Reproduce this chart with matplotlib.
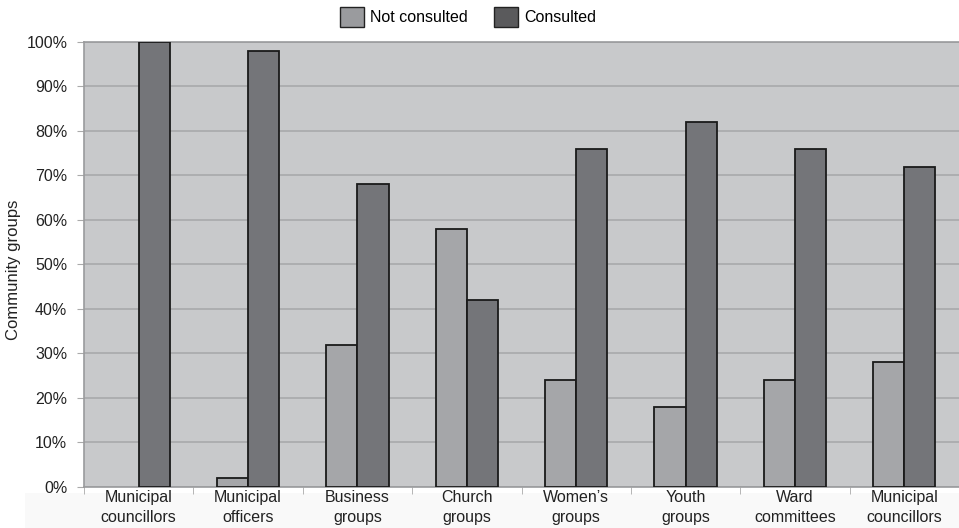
import matplotlib
matplotlib.use("Agg")
import matplotlib.pyplot as plt
from matplotlib.patches import Patch, Rectangle
import numpy as np

categories = ["Municipal\ncouncillors", "Municipal\nofficers", "Business\ngroups", "Church\ngroups",
              "Women\u2019s\ngroups", "Youth\ngroups", "Ward\ncommittees", "Municipal\ncouncillors"]
not_consulted = [0, 2, 32, 58, 24, 18, 24, 28]
consulted = [100, 98, 68, 42, 76, 82, 76, 72]
yticks = [0, 10, 20, 30, 40, 50, 60, 70, 80, 90, 100]

plt.rcParams['font.family'] = ['Liberation Sans', 'DejaVu Sans']

fig = plt.figure(figsize=(9.59, 5.28), dpi=100)
# faint background behind the category labels
bg = Rectangle((25/959, 0), 1, 35/528, transform=fig.transFigure,
               facecolor='#f9f9f9', edgecolor='none', zorder=-5)
fig.patches.append(bg)

ax = fig.add_axes([0.0876, 0.0777, 0.9124, 0.8428])
ax.set_zorder(1)
ax.set_facecolor('#c8c9cb')

x = np.arange(len(categories))
w = 0.285
nc_lw = [1.3 if v > 0 else 0 for v in not_consulted]
ax.bar(x - w/2, not_consulted, w, color='#a5a6a9', edgecolor='#1a1a1a', linewidth=nc_lw, zorder=3)
ax.bar(x + w/2, consulted, w, color='#747579', edgecolor='#1a1a1a', linewidth=1.3, zorder=3)

ax.set_xlim(-0.5, len(categories) - 0.5)
ax.set_ylim(0, 100)
ax.set_yticks(yticks)
ax.set_yticklabels([f"{v}%" for v in yticks], fontsize=11.5, color='#222222')
ax.yaxis.grid(True, color='#a8a9ab', linewidth=1.2, zorder=0)
ax.set_axisbelow(True)
ax.tick_params(axis='y', length=5, color='#aaaaaa', pad=7)

ax.set_xticks(x)
ax.set_xticklabels(categories, fontsize=11.5, color='#222222', linespacing=1.4)
ax.set_xticks(np.arange(-0.5, len(categories)), minor=True)
ax.tick_params(axis='x', which='major', length=0, pad=2)
ax.tick_params(axis='x', which='minor', length=5, color='#aaaaaa')

for s in ['left', 'bottom', 'top']:
    ax.spines[s].set_color('#9a9b9d')
    ax.spines[s].set_linewidth(1.2)
ax.spines['right'].set_visible(False)

fig.text(14/959, 0.489, "Community groups", rotation=90, fontsize=12, color='#222222',
         ha='center', va='center')

handles = [Patch(facecolor='#9a9b9e', edgecolor='#222222', label='Not consulted'),
           Patch(facecolor='#5a5a5c', edgecolor='#222222', label='Consulted')]
fig.legend(handles=handles, loc='center', bbox_to_anchor=(0.488, 0.968), ncol=2, frameon=False,
           fontsize=11.5, handlelength=1.5, handleheight=1.5, columnspacing=1.6, handletextpad=0.4)

fig.savefig("out.png", dpi=100)
